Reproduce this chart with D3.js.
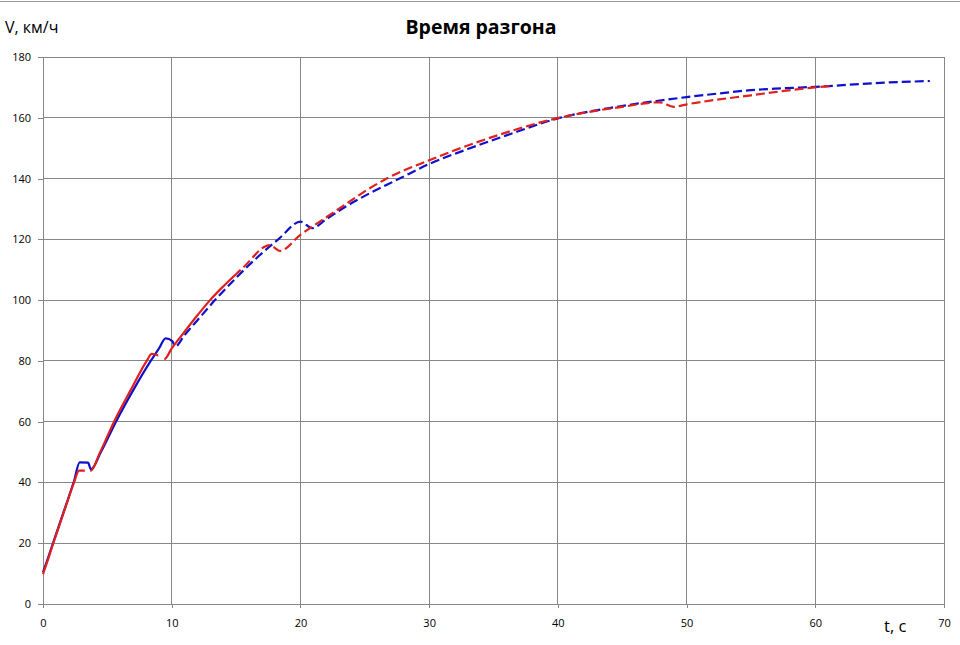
<!DOCTYPE html>
<html>
<head>
<meta charset="utf-8">
<script src="https://cdn.jsdelivr.net/npm/d3@7"></script>
<style>
    body { margin: 0; background: #fff; }
    text { font-family: "Open Sans", "Liberation Sans", sans-serif; fill: #000; }
    .tick text { font-size: 11px; }
    .grid line { stroke: #878787; stroke-width: 1; shape-rendering: crispEdges; }
    .axis path, .axis line { stroke: #878787; shape-rendering: crispEdges; }
    .title { font-size: 19.5px; font-weight: bold; }
    .axisLabel { font-size: 16px; }
</style>
</head>
<body>
<div id="chart"></div>
<script>
// Tick values
var xTicks = [0, 10, 20, 30, 40, 50, 60, 70];
var yTicks = [0, 20, 40, 60, 80, 100, 120, 140, 160, 180];

// Blue series: time, s / speed, km/h
var blueT = [0, 0.4, 0.8, 1.2, 1.6, 2.0, 2.4, 2.85, 3.5, 3.72, 4.5, 5.67, 7.0, 8.37, 9.0, 9.53, 10.05, 10.25,
    11, 12, 13.36, 15, 16.5, 18.28, 20.02, 20.9, 22, 23.6, 25, 27.7, 30, 33, 36, 40, 44, 47.8, 50,
    52.5, 55, 57.5, 60, 65.6, 68.9];
var blueV = [10.5, 15.3, 20.3, 25.3, 30.3, 35.2, 40.3, 46.6, 46.5, 44.3, 50.0, 60, 70.3, 80, 84, 87.4, 86.5, 84.7,
    88.5, 93.4, 100, 107.3, 113.5, 120, 125.8, 123.7, 126.6, 131.0, 134.3, 140, 144.8, 149.7, 154.2, 159.8, 163.2, 165.6, 166.8,
    168, 169.1, 169.7, 170.2, 171.6, 172.1];

// Red series
var redT = [0, 0.4, 0.8, 1.2, 1.6, 2.0, 2.41, 2.8, 3.27, 3.7, 4.43, 5.52, 6.8, 8.06, 8.44, 8.96, 9.43, 10,
    11, 12, 12.98, 14, 15.5, 17.64, 18.0, 18.4, 20, 21.5, 23.6, 25, 26.7, 30, 35, 40, 45, 47.9, 49, 50,
    55, 60, 61.4];
var redV = [9.8, 14.8, 20, 25, 30, 35, 40, 43.9, 43.9, 43.8, 49.9, 60, 70.3, 80, 82.3, 81.8, 80.6, 84.1,
    89.6, 95, 100, 104.5, 110.5, 118.1, 117.2, 116.2, 121.5, 125.8, 131.8, 135.8, 140, 146, 153.8, 159.9, 163.6, 165.1, 163.6, 164.4,
    167.4, 170, 170.5];

function init() {
    const w = 960;
    const h = 645;
    const left = 43, right = 944, top = 57, bottom = 604;

    var svg = d3.select("#chart").append("svg").attr("width", w).attr("height", h);

    // window edge line at the very top
    svg.append("line")
        .attr("x1", 0).attr("x2", w)
        .attr("y1", 1.5).attr("y2", 1.5)
        .attr("stroke", "#9a9a9a");

    var xScale = d3.scaleLinear().domain([0, 70]).range([left, right]);
    var yScale = d3.scaleLinear().domain([0, 180]).range([bottom, top]);

    // Grid
    var grid = svg.append("g").attr("class", "grid");
    grid.selectAll(".vx").data(xTicks).enter().append("line")
        .attr("x1", (d) => xScale(d)).attr("x2", (d) => xScale(d))
        .attr("y1", top).attr("y2", bottom);
    grid.selectAll(".hy").data(yTicks).enter().append("line")
        .attr("x1", left).attr("x2", right)
        .attr("y1", (d) => yScale(d)).attr("y2", (d) => yScale(d));

    // Axes
    var xAxis = d3.axisBottom(xScale).tickValues(xTicks).tickSize(4).tickSizeOuter(0).tickPadding(11);
    var yAxis = d3.axisLeft(yScale).tickValues(yTicks).tickSize(5).tickSizeOuter(0).tickPadding(7);

    svg.append("g").attr("class", "axis")
        .attr("transform", "translate(0," + bottom + ")")
        .call(xAxis);
    svg.append("g").attr("class", "axis")
        .attr("transform", "translate(" + left + ",0)")
        .call(yAxis);

    // Clips: solid pieces at the start, dashed after
    var defs = svg.append("defs");
    function addClip(id, ranges) {
        var cp = defs.append("clipPath").attr("id", id);
        ranges.forEach((r) => {
            cp.append("rect")
                .attr("x", xScale(r[0])).attr("y", 0)
                .attr("width", xScale(r[1]) - xScale(r[0])).attr("height", h);
        });
    }

    var line = d3.line()
        .x((d) => xScale(d[0]))
        .y((d) => yScale(d[1]))
        .curve(d3.curveMonotoneX);

    function drawSeries(ts, vs, color, solidRanges, name) {
        var data = ts.map((t, i) => [t, vs[i]]);
        var solidEnd = solidRanges[solidRanges.length - 1][1];
        addClip(name + "Solid", solidRanges);
        addClip(name + "Dash", [[solidEnd, 75]]);
        svg.append("path").datum(data)
            .attr("d", line)
            .attr("fill", "none").attr("stroke", color).attr("stroke-width", 2.2)
            .attr("clip-path", "url(#" + name + "Solid)");
        svg.append("path").datum(data)
            .attr("d", line)
            .attr("fill", "none").attr("stroke", color).attr("stroke-width", 2.2)
            .attr("stroke-dasharray", "9,4")
            .attr("clip-path", "url(#" + name + "Dash)");
    }

    drawSeries(blueT, blueV, "#1010cc", [[-1, 10.1]], "blue");
    drawSeries(redT, redV, "#e0201c", [[-1, 3.25], [3.68, 8.95], [9.42, 15]], "red");

    // Texts
    svg.append("text").attr("class", "title")
        .attr("x", 481).attr("y", 34)
        .attr("text-anchor", "middle")
        .text("Время разгона");

    svg.append("text").attr("class", "axisLabel")
        .attr("x", 5).attr("y", 33)
        .text("V, км/ч");

    svg.append("text").attr("class", "axisLabel")
        .attr("x", 884).attr("y", 632)
        .style("font-size", "16.5px")
        .text("t, c");
}

window.onload = init();
</script>
</body>
</html>
